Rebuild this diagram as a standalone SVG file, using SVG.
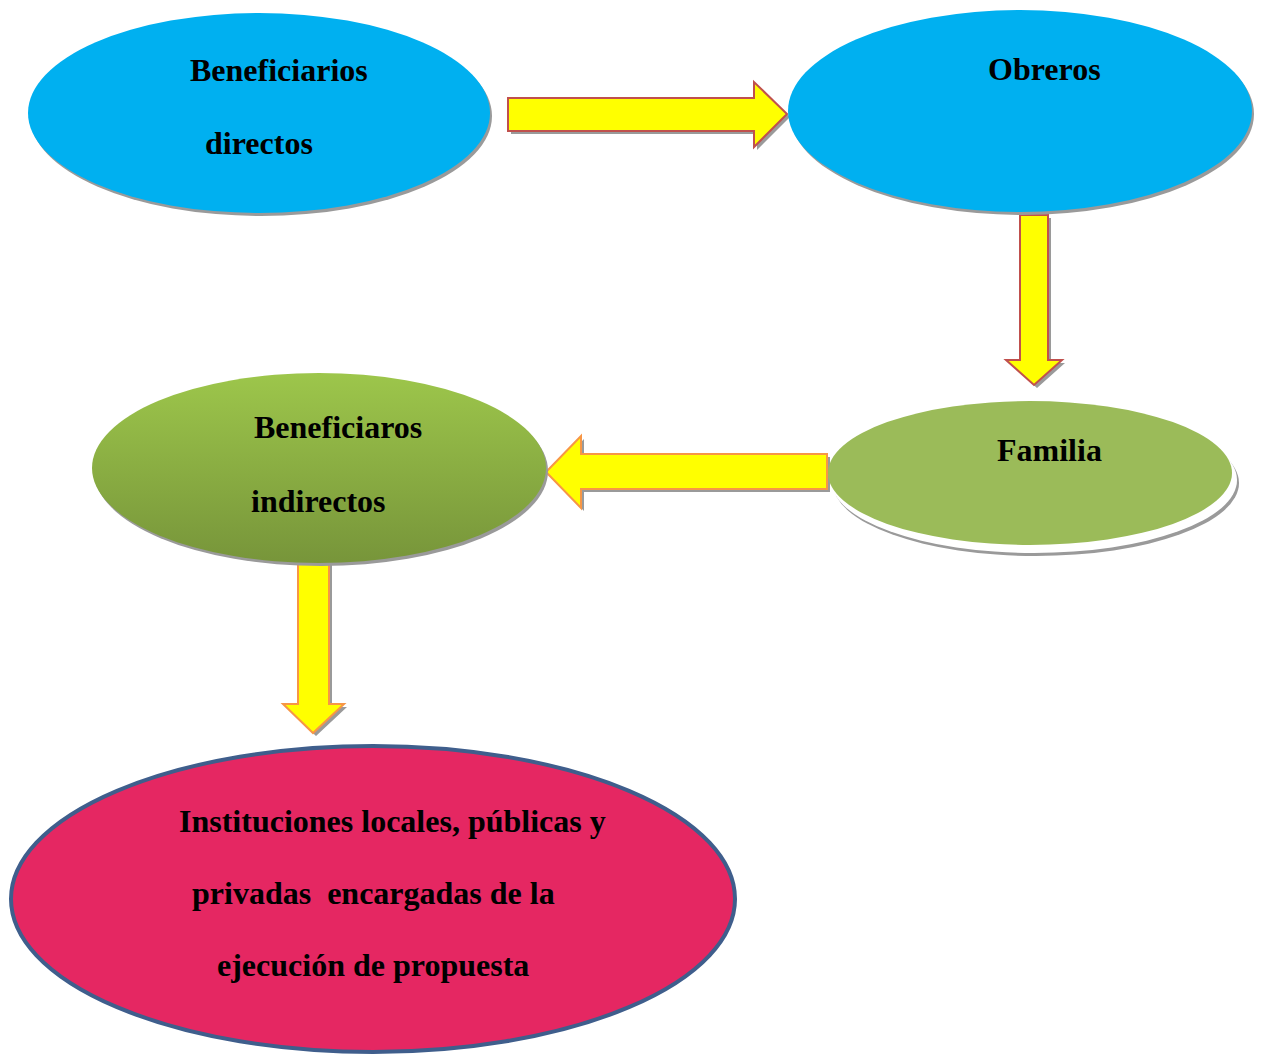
<svg xmlns="http://www.w3.org/2000/svg" width="1266" height="1055" viewBox="0 0 1266 1055">
<style>
.t{font-family:"Liberation Serif","Times New Roman",serif;font-weight:bold;font-size:32px;fill:#000}
.sh{fill:#9a9a9a}
.blue{fill:#00B0F0}
.arR{fill:#FFFF00;stroke:#C0504D;stroke-width:2}
.arO{fill:#FFFF00;stroke:#F79646;stroke-width:2}
</style>
<defs>
<linearGradient id="g" x1="0" y1="0" x2="0" y2="1">
<stop offset="0" stop-color="#9DC64B"/>
<stop offset="1" stop-color="#77953A"/>
</linearGradient>
</defs>
<g id="connectors">
<polygon class="sh" points="511,101 757,101 757,85 790,117 757,150 757,134 511,134"/>
<polygon class="arR" points="508,98 754,98 754,82 787,114 754,147 754,131 508,131"/>
<polygon class="sh" points="1023,218 1051,218 1051,363 1065,363 1037,388 1009,363 1023,363"/>
<polygon class="arR" points="1020,215 1048,215 1048,360 1062,360 1034,385 1006,360 1020,360"/>
<polygon class="sh" points="830,457 830,492 584,492 584,511 549,475 584,439 584,457"/>
<polygon class="arO" points="827,454 827,489 581,489 581,508 546,472 581,436 581,454"/>
<polygon class="sh" points="301,563 332,563 332,707 347,707 316,736 286,707 301,707"/>
<polygon class="arO" points="298,560 329,560 329,704 344,704 313,733 283,704 298,704"/>
</g>
<g id="node-beneficiarios-directos">
<ellipse class="sh" cx="261" cy="116" rx="231" ry="100"/>
<ellipse class="blue" cx="259" cy="113" rx="231" ry="100"/>
<text class="t" x="190" y="81">Beneficiarios</text>
<text class="t" x="205" y="154">directos</text>
</g>
<g id="node-obreros">
<ellipse class="sh" cx="1022" cy="114" rx="232" ry="101"/>
<ellipse class="blue" cx="1020" cy="111" rx="232" ry="101"/>
<text class="t" x="988" y="80">Obreros</text>
</g>
<g id="node-familia">
<ellipse class="sh" cx="1036" cy="483" rx="203" ry="73"/>
<ellipse fill="#fff" cx="1034" cy="480" rx="203" ry="73"/>
<ellipse fill="#9BBB59" cx="1030" cy="473" rx="202" ry="72"/>
<text class="t" x="997" y="461">Familia</text>
</g>
<g id="node-beneficiarios-indirectos">
<ellipse class="sh" cx="321" cy="471" rx="227" ry="95"/>
<ellipse fill="url(#g)" cx="319" cy="468" rx="227" ry="95"/>
<text class="t" x="254" y="438">Beneficiaros</text>
<text class="t" x="251" y="512">indirectos</text>
</g>
<g id="node-instituciones">
<ellipse fill="#E52762" stroke="#3F5E8C" stroke-width="4" cx="373" cy="899" rx="362" ry="153"/>
<text class="t" x="179" y="832">Instituciones locales, públicas y</text>
<text class="t" x="192" y="904" xml:space="preserve">privadas  encargadas de la</text>
<text class="t" x="217" y="976">ejecución de propuesta</text>
</g>
</svg>
